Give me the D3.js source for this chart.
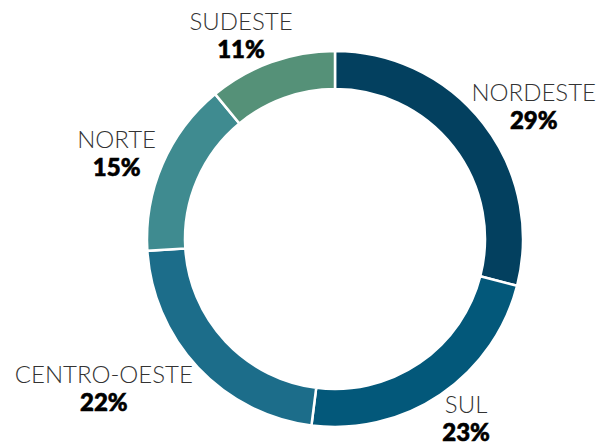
<!DOCTYPE html>
<html>
<head>
<meta charset="utf-8">
<script src="https://cdn.jsdelivr.net/npm/d3@7"></script>
<style>
  body { margin: 0; background: #fff; }
  text { font-family: Lato, sans-serif; }
</style>
</head>
<body>
<svg id="chart"></svg>
<script>
const svgWidth = 606, svgHeight = 443;
// regions and their share (%)
const regions = ["NORDESTE", "SUL", "CENTRO-OESTE", "NORTE", "SUDESTE"];
const shares = [29, 23, 22, 15, 11];
const colors = ["#03405f", "#03587a", "#1c6d8a", "#3f8b90", "#559178"];

const cx = 335, cy = 239,
    outerR = 188, innerR = 150,
    labelR = 195, labelRy = 217, edgePad = 10;

const chart = d3.select("#chart")
    .attr("width", svgWidth)
    .attr("height", svgHeight);

const data = regions.map((r, i) => ({name: r, value: shares[i], color: colors[i]}));

const pie = d3.pie().sort(null).value(d => d.value);
const arc = d3.arc().innerRadius(innerR).outerRadius(outerR);

const g = chart.append("g").attr("transform", `translate(${cx},${cy})`);

g.selectAll("path.slice")
    .data(pie(data))
    .join("path")
    .attr("class", "slice")
    .attr("d", arc)
    .attr("fill", d => d.data.color)
    .attr("stroke", "#fff")
    .attr("stroke-width", 2.5);

// labels: block pushed outward from the ring along the slice's mid angle
const labels = g.selectAll("g.label")
    .data(pie(data))
    .join("g")
    .attr("class", "label");

labels.append("text")
    .attr("class", "name")
    .attr("text-anchor", "middle")
    .attr("y", -5)
    .attr("font-size", 24)
    .attr("font-weight", 300)
    .attr("fill", "#333")
    .text(d => d.data.name);

labels.append("text")
    .attr("class", "pct")
    .attr("text-anchor", "middle")
    .attr("y", 23)
    .attr("font-size", 24)
    .attr("font-weight", 900)
    .attr("fill", "#000")
    .attr("stroke", "#000")
    .attr("stroke-width", 0.6)
    .text(d => d.data.value + "%");

labels.attr("transform", function(d) {
    const a = (d.startAngle + d.endAngle) / 2;
    const s = Math.sin(a), c = Math.cos(a);
    const w = this.getBBox().width;
    let x = labelR * s + Math.sign(s) * w / 2 * Math.min(1, 1.6 * Math.abs(s));
    // keep the block inside the picture
    x = Math.min(x, svgWidth - cx - w / 2 - edgePad);
    x = Math.max(x, -cx + w / 2 + edgePad);
    const y = -labelRy * c;
    return `translate(${x},${y})`;
});
</script>
</body>
</html>
